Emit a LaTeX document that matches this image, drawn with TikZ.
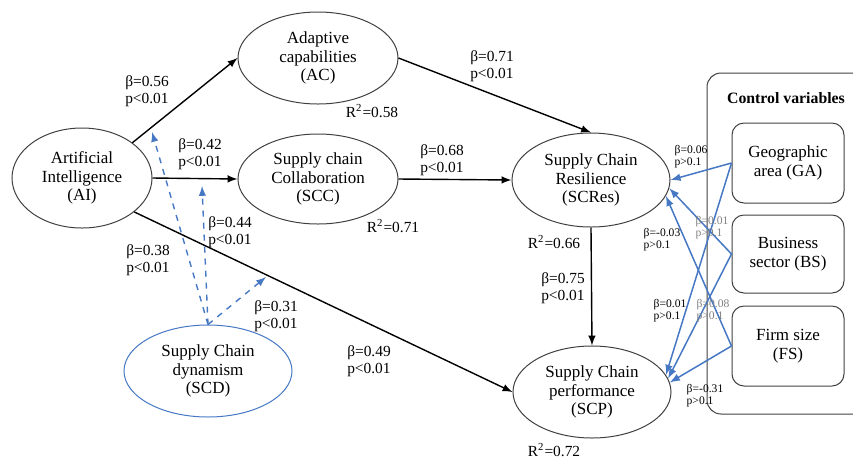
\documentclass[tikz,border=0pt]{standalone}
\usepackage{fontspec}
\setmainfont{Liberation Serif}
\usetikzlibrary{arrows,shapes.geometric}
\definecolor{modblue}{RGB}{70,120,195}

\begin{document}
\begin{tikzpicture}[x=0.5pt,y=-0.5pt,>=latex,
	latent/.style={ellipse, draw=black!75, line width=0.5pt, inner sep=0pt, align=center, font=\fontsize{8.5}{9.2}\selectfont},
	ctrlbox/.style={rectangle, rounded corners=6pt, draw=black!75, line width=0.5pt, minimum width=56pt, minimum height=40pt, align=center, font=\fontsize{8.5}{9.2}\selectfont},
	coef/.style={align=left, inner sep=0pt, font=\fontsize{7.7}{8.6}\selectfont},
	smallcoef/.style={align=left, inner sep=0pt, font=\fontsize{5.8}{6.1}\selectfont},
	rsq/.style={inner sep=0pt, font=\fontsize{7.7}{8.6}\selectfont},
	mainarrow/.style={->, line width=0.7pt},
	modarrow/.style={->, dashed, modblue, line width=0.7pt},
	ctrlarrow/.style={->, modblue, line width=0.75pt}]
			\useasboundingbox (0,0) rectangle (853,457);
			% constructs
			\node [latent, minimum width=70pt, minimum height=50pt] (AI) at (82,178) {Artificial\\Intelligence\\(AI)};
			\node [latent, minimum width=80pt, minimum height=46pt] (AC) at (318,58) {Adaptive\\capabilities\\(AC)};
			\node [latent, minimum width=80pt, minimum height=45pt] (SCC) at (318,179) {Supply chain\\Collaboration\\(SCC)};
			\node [latent, minimum width=79pt, minimum height=47pt] (SCRes) at (591,180) {Supply Chain\\Resilience\\(SCRes)};
			\node [latent, minimum width=79pt, minimum height=46pt] (SCP) at (592,392) {Supply Chain\\performance\\(SCP)};
			\node [latent, draw=modblue, minimum width=84pt, minimum height=46pt] (SCD) at (208,371) {Supply Chain\\dynamism\\(SCD)};
			% control variables
			\draw [black!75, line width=0.5pt, rounded corners=7pt] (707,73) rectangle (880,414);
			\node [font=\bfseries\fontsize{7.9}{9}\selectfont] (CV) at (786,98) {Control variables};
			\node [ctrlbox] (GA) at (788,163) {Geographic\\area (GA)};
			\node [ctrlbox, minimum height=39pt] (BS) at (788,254) {Business\\sector (BS)};
			\node [ctrlbox] (FS) at (788,346) {Firm size\\(FS)};
			% direct paths
			\draw [mainarrow] (AI.35) -- (AC.west);
			\draw [mainarrow] (AI.east) -- (SCC.west);
			\draw [mainarrow] (AI.-33) -- (SCP.west);
			\draw [mainarrow] (AC.east) -- (SCRes.north);
			\draw [mainarrow] (SCC.east) -- (SCRes.west);
			\draw [mainarrow] (SCRes.south) -- (SCP.north);
			% moderation
			\coordinate (m1) at (152,132);
			\coordinate (m2) at (202,186);
			\coordinate (m3) at (266,277);
			\draw [modarrow] (SCD.north) -- (m1);
			\draw [modarrow] (SCD.north) -- (m2);
			\draw [modarrow] (SCD.north) -- (m3);
			% controls
			\draw [ctrlarrow] (GA.west) -- (SCRes.east);
			\draw [ctrlarrow] (GA.west) -- (SCP.13);
			\draw [ctrlarrow] (BS.west) -- (SCRes.-6);
			\draw [ctrlarrow] (BS.west) -- (SCP.10);
			\draw [ctrlarrow] (FS.west) -- (SCRes.-12);
			\draw [ctrlarrow] (FS.west) -- (SCP.7);
			% coefficients
			\node [coef] (b1) at (147,91) {β=0.56\\p<0.01};
			\node [coef] (b2) at (200,154) {β=0.42\\p<0.01};
			\node [coef] (b3) at (230,232) {β=0.44\\p<0.01};
			\node [coef] (b4) at (148,260) {β=0.38\\p<0.01};
			\node [coef] (b5) at (276,316) {β=0.31\\p<0.01};
			\node [coef] (b6) at (369,361) {β=0.49\\p<0.01};
			\node [coef] (b7) at (492,66) {β=0.71\\p<0.01};
			\node [coef] (b8) at (442,160) {β=0.68\\p<0.01};
			\node [coef] (b9) at (563,288) {β=0.75\\p<0.01};
			\node [rsq] (r1) at (372,111) {R\textsuperscript{2}=0.58};
			\node [rsq] (r2) at (393,226) {R\textsuperscript{2}=0.71};
			\node [rsq] (r3) at (554,242) {R\textsuperscript{2}=0.66};
			\node [rsq] (r4) at (554,450) {R\textsuperscript{2}=0.72};
			\node [smallcoef] (s1) at (691,157) {β=0.06\\p>0.1};
			\node [smallcoef] (s2) at (662,240) {β=-0.03\\p>0.1};
			\node [smallcoef, text=gray] (s3) at (712,228) {β=0.01\\p>0.1};
			\node [smallcoef] (s4) at (670,311) {β=0.01\\p>0.1};
			\node [smallcoef, text=gray] (s5) at (713,311) {β=0.08\\p>0.1};
			\node [smallcoef] (s6) at (705,396) {β=-0.31\\p>0.1};
\end{tikzpicture}
\end{document}
